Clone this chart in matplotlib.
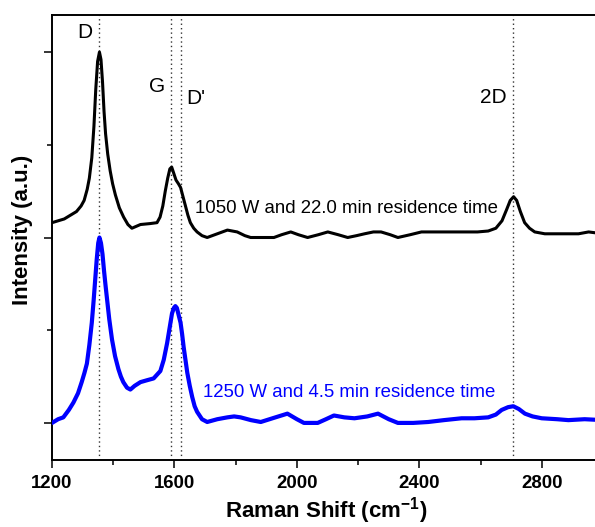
import matplotlib
matplotlib.use("Agg")
import matplotlib.pyplot as plt
from matplotlib.ticker import MultipleLocator, NullFormatter

plt.rcParams['font.family'] = ['Liberation Sans', 'DejaVu Sans']
plt.rcParams['mathtext.fontset'] = 'custom'
plt.rcParams['mathtext.rm'] = 'Liberation Sans'
plt.rcParams['mathtext.bf'] = 'Liberation Sans:bold'
plt.rcParams['mathtext.default'] = 'bf'

# Raman shift (cm^-1) and offset intensity
x_black = [1200, 1220, 1240, 1260, 1280, 1295, 1305, 1315, 1322, 1330, 1337, 1343,
           1349, 1355, 1360, 1365, 1370, 1375, 1382, 1390, 1398, 1407, 1420, 1434,
           1448, 1461, 1475, 1489, 1520, 1543, 1553, 1562, 1570, 1578, 1585, 1591,
           1597, 1605, 1613, 1620, 1628, 1636, 1644, 1652, 1663, 1674, 1690, 1707,
           1740, 1773, 1805, 1830, 1849, 1900, 1925, 1950, 1980, 2005, 2035, 2070,
           2101, 2135, 2166, 2195, 2221, 2250, 2275, 2305, 2330, 2370, 2407, 2445,
           2482, 2515, 2548, 2590, 2625, 2650, 2670, 2685, 2697, 2708, 2718, 2730,
           2744, 2760, 2777, 2810, 2843, 2880, 2920, 2953, 3000]
y_black = [1.08, 1.09, 1.10, 1.12, 1.14, 1.17, 1.20, 1.26, 1.32, 1.43, 1.60, 1.80,
           1.95, 2.00, 1.96, 1.84, 1.68, 1.56, 1.45, 1.36, 1.29, 1.23, 1.16, 1.11,
           1.07, 1.05, 1.06, 1.07, 1.075, 1.08, 1.11, 1.17, 1.25, 1.32, 1.37, 1.38,
           1.35, 1.31, 1.29, 1.27, 1.22, 1.17, 1.12, 1.08, 1.05, 1.03, 1.01, 1.00,
           1.02, 1.04, 1.03, 1.01, 1.00, 1.00, 1.00, 1.015, 1.03, 1.015, 1.00, 1.015,
           1.03, 1.015, 1.00, 1.01, 1.02, 1.03, 1.03, 1.015, 1.00, 1.015, 1.03, 1.03,
           1.03, 1.03, 1.03, 1.03, 1.035, 1.05, 1.09, 1.15, 1.20, 1.22, 1.20, 1.14,
           1.08, 1.05, 1.03, 1.02, 1.02, 1.02, 1.02, 1.03, 1.02]

x_blue = [1200, 1220, 1237, 1255, 1270, 1285, 1297, 1306, 1314, 1322, 1330, 1336,
          1341, 1346, 1351, 1355, 1360, 1365, 1370, 1375, 1379, 1387, 1396, 1406,
          1417, 1425, 1433, 1445, 1456, 1470, 1489, 1510, 1532, 1554, 1565, 1576,
          1585, 1592, 1598, 1603, 1608, 1614, 1620, 1625, 1630, 1636, 1642, 1650,
          1658, 1666, 1674, 1690, 1707, 1740, 1773, 1795, 1816, 1850, 1882, 1930,
          1969, 2000, 2023, 2068, 2095, 2121, 2155, 2188, 2230, 2265, 2300, 2330,
          2380, 2429, 2480, 2538, 2580, 2625, 2650, 2669, 2690, 2707, 2725, 2745,
          2770, 2800, 2850, 2887, 2940, 3000]
y_blue = [0.00, 0.02, 0.03, 0.07, 0.11, 0.16, 0.22, 0.27, 0.32, 0.42, 0.54, 0.66,
          0.77, 0.88, 0.97, 1.00, 0.97, 0.91, 0.82, 0.74, 0.68, 0.56, 0.45, 0.36,
          0.29, 0.25, 0.22, 0.19, 0.18, 0.20, 0.22, 0.23, 0.24, 0.28, 0.34, 0.43,
          0.52, 0.59, 0.62, 0.63, 0.62, 0.58, 0.54, 0.48, 0.41, 0.34, 0.27, 0.20,
          0.14, 0.09, 0.06, 0.02, 0.005, 0.02, 0.03, 0.035, 0.03, 0.015, 0.005, 0.03,
          0.05, 0.02, 0.00, 0.00, 0.02, 0.04, 0.03, 0.025, 0.035, 0.05, 0.02, 0.00,
          0.00, 0.005, 0.015, 0.025, 0.025, 0.03, 0.045, 0.07, 0.085, 0.09, 0.075, 0.05,
          0.035, 0.025, 0.02, 0.015, 0.02, 0.015]

peak_names = ["D", "G", "D'", "2D"]
peak_pos = [1355, 1590, 1622, 2705]
label_black = "1050 W and 22.0 min residence time"
label_blue = "1250 W and 4.5 min residence time"
xticks = [1200, 1600, 2000, 2400, 2800]

fig = plt.figure(figsize=(5.95, 5.27), dpi=100)
ax = fig.add_axes([52 / 595, 67 / 527, 551 / 595, 445 / 527])

for p in peak_pos:
    ax.axvline(p, color='#333333', lw=1.0, ls=(0, (1, 2.2)), zorder=1)

ax.plot(x_black, y_black, color='black', lw=2.2, zorder=3,
        solid_joinstyle='round', solid_capstyle='round')
ax.plot(x_blue, y_blue, color='#0000FF', lw=3.0, zorder=3,
        solid_joinstyle='round', solid_capstyle='round')

ax.set_xlim(1200, 3000)
ax.set_ylim(-0.2, 2.2)
ax.set_xticks(xticks)
ax.xaxis.set_minor_locator(MultipleLocator(200))
ax.yaxis.set_major_locator(MultipleLocator(1))
ax.yaxis.set_minor_locator(MultipleLocator(0.5))
ax.yaxis.set_major_formatter(NullFormatter())
ax.tick_params(axis='both', which='major', direction='out', length=6, width=1.1)
ax.tick_params(axis='both', which='minor', direction='out', length=3.3, width=1.1)
ax.tick_params(axis='x', labelsize=13.4, pad=5)
for lab in ax.get_xticklabels():
    lab.set_fontweight('bold')
for s in ax.spines.values():
    s.set_linewidth(1.4)

# peak labels
peak_text_xy = [(1308, 2.108), (1544, 1.816), (1669, 1.75), (2643, 1.757)]
for name, (tx, ty) in zip(peak_names, peak_text_xy):
    ax.text(tx, ty, name, fontsize=15, ha='center', va='center', color='black')

ax.text(1666, 1.157, label_black, fontsize=13.4, ha='left', va='center', color='black')
ax.text(1692, 0.162, label_blue, fontsize=13.4, ha='left', va='center', color='#0000FF')

ax.set_xlabel("Raman Shift (cm$^{\\mathbf{-}\\mathbf{1}}$)", fontsize=16, fontweight='bold')
ax.set_ylabel("Intensity (a.u.)", fontsize=16, fontweight='bold')
ax.xaxis.set_label_coords(274.5 / 551, -(495 - 460) / 445)
ax.yaxis.set_label_coords(-(52 - 33) / 551, (460 - 230) / 445)

fig.savefig("out.png", dpi=100)
